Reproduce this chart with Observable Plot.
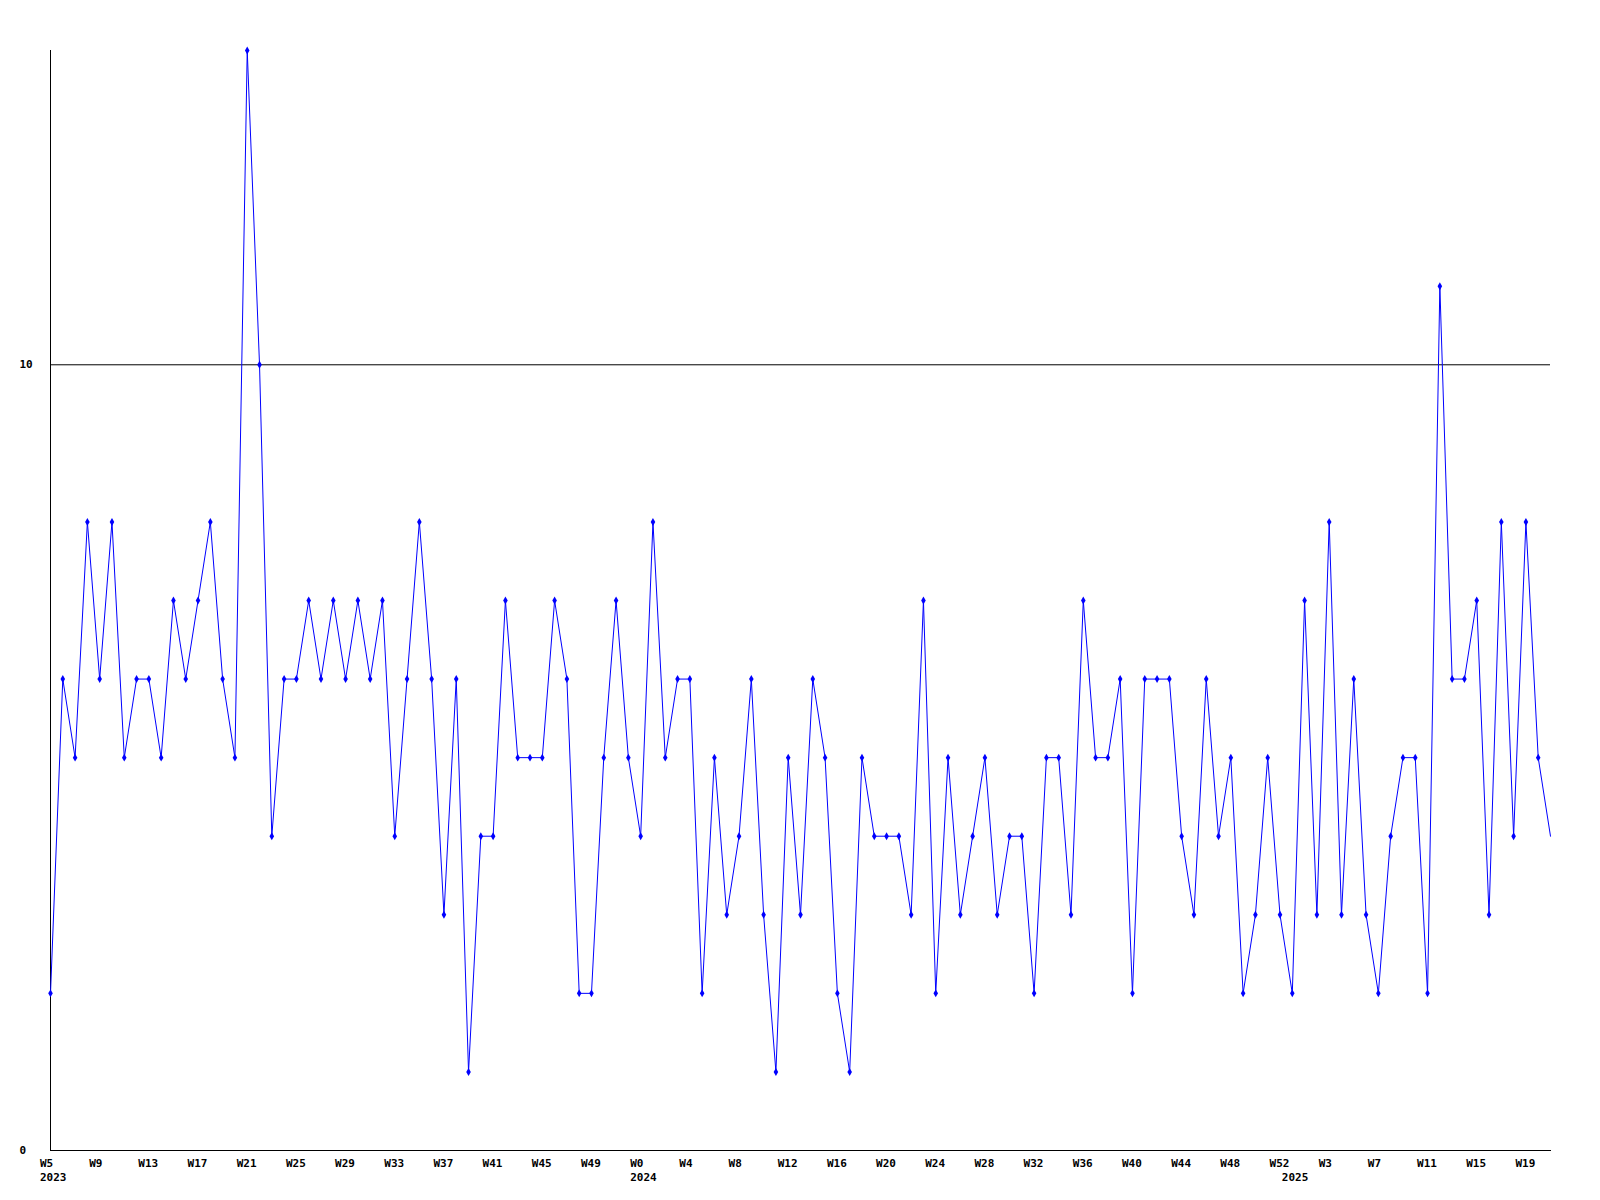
<!DOCTYPE html>
<html>
<head>
<meta charset="utf-8">
<script src="https://cdn.jsdelivr.net/npm/d3@7"></script>
<script src="https://cdn.jsdelivr.net/npm/@observablehq/plot@0.6"></script>
<style>
  html, body { margin: 0; padding: 0; background: #fff; }
  #chart svg { display: block; }
</style>
</head>
<body>
<div id="chart"></div>
<script>
// Week numbers of each point, per year
const weeks2023 = [5,6,7,8,9,10,11,12,13,14,15,16,17,18,19,20,21,22,23,24,25,26,27,28,29,30,31,32,33,34,35,36,37,38,39,40,41,42,43,44,45,46,47,48,49,50,51,52];
const weeks2024 = [0,1,2,3,4,5,6,7,8,9,10,11,12,13,14,15,16,17,18,19,20,21,22,23,24,25,26,27,28,29,30,31,32,33,34,35,36,37,38,39,40,41,42,43,44,45,46,47,48,49,50,51,52];
const weeks2025 = [0,1,2,3,4,5,6,7,8,9,10,11,12,13,14,15,16,17,18,19,20,21];
const years = [2023, 2024, 2025];

// Weekly values
const values = [
  2,6,5,8,6,8,5,6,6,5,
  7,6,7,8,6,5,14,10,4,6,
  6,7,6,7,6,7,6,7,4,6,
  8,6,3,6,1,4,4,7,5,5,
  5,7,6,2,2,5,7,5,4,8,
  5,6,6,2,5,3,4,6,3,1,
  5,3,6,5,2,1,5,4,4,4,
  3,7,2,5,3,4,5,3,4,4,
  2,5,5,3,7,5,5,6,2,6,
  6,6,4,3,6,4,5,2,3,5,
  3,2,7,3,8,3,6,3,2,4,
  5,5,2,11,6,6,7,3,8,4,
  8,5,4
];

const yTicks = [0, 10];
const threshold = [10];

// Build table
const weekLists = [weeks2023, weeks2024, weeks2025];
const rows = [];
weekLists.forEach((wl, yi) => wl.forEach(w => rows.push({year: years[yi], week: w})));
rows.forEach((r, i) => { r.key = r.year + "-W" + r.week; r.value = values[i]; r.idx = i; });
const cats = rows.map(r => r.key);
const tickKeys = rows.filter(r => r.idx % 4 === 0).map(r => r.key);
const byKey = new Map(rows.map(r => [r.key, r]));
const yearStarts = rows.filter((r, i) => i === 0 || rows[i - 1].year !== r.year);
// the last point sits on the plot's right edge and shows no marker in the reference
const markerRows = rows.slice(0, rows.length - 1);

const font = "'DejaVu Sans Mono', monospace";

const chart = Plot.plot({
  width: 1600,
  height: 1200,
  marginLeft: 50,
  marginRight: 50,
  marginTop: 50,
  marginBottom: 50,
  style: {fontFamily: font, fontSize: "11px", fontWeight: "bold", color: "#000", background: "#fff"},
  x: {type: "point", domain: cats, padding: 0, label: null, axis: null},
  y: {domain: [0, 14], label: null, axis: null},
  marks: [
    Plot.ruleY(threshold, {stroke: "#000", strokeWidth: 1}),
    Plot.frame({anchor: "left", stroke: "#000", strokeWidth: 1}),
    Plot.frame({anchor: "bottom", stroke: "#000", strokeWidth: 1}),
    Plot.axisY({
      ticks: yTicks, tickSize: 0, tickPadding: 0, textAnchor: "start", dx: -31,
      fontSize: 11, fontWeight: "bold", label: null, fill: "#000"
    }),
    Plot.axisX({
      ticks: tickKeys, tickSize: 0, tickPadding: 9, textAnchor: "start", dx: -10.5,
      tickFormat: d => "W" + byKey.get(d).week, label: null, fill: "#000"
    }),
    Plot.text(yearStarts, {
      x: "key", text: d => String(d.year), frameAnchor: "bottom", lineAnchor: "top",
      textAnchor: "start", dx: -10.5, dy: 23, fill: "#000"
    }),
    Plot.line(rows, {x: "key", y: "value", stroke: "#0000ff", strokeWidth: 1}),
    Plot.dot(markerRows, {x: "key", y: "value", symbol: "diamond", r: 2.4, fill: "#0000ff", stroke: "none"})
  ]
});
document.getElementById("chart").appendChild(chart);
</script>
</body>
</html>
